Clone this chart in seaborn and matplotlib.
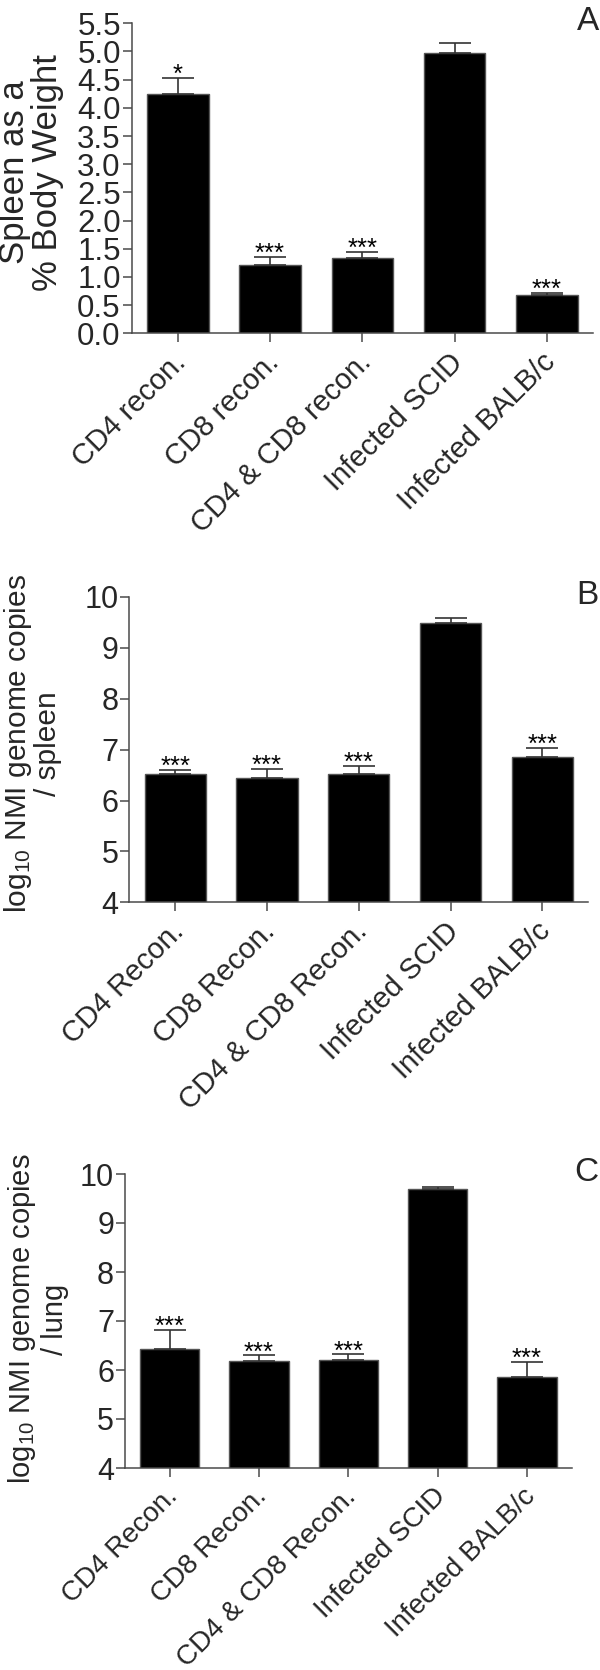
import matplotlib
matplotlib.use("Agg")
import matplotlib.pyplot as plt
from matplotlib.transforms import ScaledTranslation
import seaborn as sns
import numpy as np
import pandas as pd

# ---------------- data ----------------
cats_a = ["CD4 recon.", "CD8 recon.", "CD4 & CD8 recon.", "Infected SCID", "Infected BALB/c"]
vals_a = [4.24, 1.22, 1.34, 4.98, 0.68]
err_a = [0.29, 0.14, 0.10, 0.17, 0.04]
stars_a = ["*", "***", "***", "", "***"]

cats_bc = ["CD4 Recon.", "CD8 Recon.", "CD4 & CD8 Recon.", "Infected SCID", "Infected BALB/c"]
vals_b = [6.53, 6.44, 6.53, 9.49, 6.85]
err_b = [0.07, 0.18, 0.15, 0.09, 0.19]
stars_b = ["***", "***", "***", "", "***"]

vals_c = [6.42, 6.18, 6.21, 9.69, 5.85]
err_c = [0.40, 0.12, 0.11, 0.04, 0.31]
stars_c = ["***", "***", "***", "", "***"]

yticks_a = [0.0, 0.5, 1.0, 1.5, 2.0, 2.5, 3.0, 3.5, 4.0, 4.5, 5.0, 5.5]
yticks_bc = [4, 5, 6, 7, 8, 9, 10]

# ---------------- style ----------------
sns.set_style("ticks")
plt.rcParams["font.family"] = ["Liberation Sans", "DejaVu Sans"]
plt.rcParams["mathtext.fontset"] = "custom"
plt.rcParams["mathtext.rm"] = "Liberation Sans"
plt.rcParams["mathtext.default"] = "regular"

AX_COL = "#4a4a4a"
W, H = 600, 1670
fig = plt.figure(figsize=(W / 100, H / 100), dpi=100)


def add_axes_px(left, right, top, bottom):
    return fig.add_axes([left / W, 1 - bottom / H, (right - left) / W, (bottom - top) / H])


def panel(ax, cats, vals, errs, stars, ylim, yticks, fmt, ytick_fs, xlab_fs,
          ylabel, ylab_fs, ylab_xy, ylab_ls):
    df = pd.DataFrame({"cat": cats, "val": vals})
    sns.barplot(data=df, x="cat", y="val", ax=ax, color="black", saturation=1,
                width=0.667, edgecolor="#555555", linewidth=1.0, errorbar=None)
    x = np.arange(len(cats))
    ax.errorbar(x, vals, yerr=[np.zeros(len(vals)), errs], fmt="none",
                ecolor="#333333", elinewidth=1.2, capsize=11.5, capthick=1.2, zorder=3)
    for xi, v, e, s in zip(x, vals, errs, stars):
        if s:
            ax.annotate(s, (xi, v + e), xytext=(0, -3), textcoords="offset points",
                        ha="center", va="baseline", fontsize=18.5, color="black")
    ax.set_xlim(-0.5, len(cats) - 0.5)
    ax.set_ylim(*ylim)
    ax.set_yticks(yticks)
    ax.set_yticklabels([fmt.format(t) for t in yticks], fontsize=ytick_fs)
    ax.set_xticks(x)
    ax.set_xticklabels(cats, rotation=45, ha="right", va="center",
                       rotation_mode="anchor", fontsize=xlab_fs)
    ax.set_xlabel("")
    ax.set_ylabel(ylabel, fontsize=ylab_fs, va="center", ha="center", linespacing=ylab_ls)
    ax.yaxis.set_label_coords(*ylab_xy)
    sns.despine(ax=ax)
    for sp in ("left", "bottom"):
        ax.spines[sp].set_color(AX_COL)
        ax.spines[sp].set_linewidth(1.1)
    ax.tick_params(axis="y", direction="out", length=6.7, width=1.1, color=AX_COL, pad=1.2)
    ax.tick_params(axis="x", direction="out", length=6.7, width=1.1, color=AX_COL, pad=11)
    off = ScaledTranslation(4 / 100, 0, fig.dpi_scale_trans)
    for lab in ax.get_xticklabels():
        lab.set_transform(lab.get_transform() + off)


ax_a = add_axes_px(131.7, 593, 23.3, 333.3)
panel(ax_a, cats_a, vals_a, err_a, stars_a, (0, 5.5), yticks_a, "{:.1f}", 22.5, 21,
      "Spleen as a\n% Body Weight", 25, (-0.218, 0.52), 1.0)

ax_b = add_axes_px(129.3, 588.3, 597, 902.3)
panel(ax_b, cats_bc, vals_b, err_b, stars_b, (4, 10), yticks_bc, "{:d}", 22, 21,
      "log$_{10}$ NMI genome copies\n/ spleen", 21.5, (-0.211, 0.52), 1.0)

ax_c = add_axes_px(125, 571.7, 1174, 1468)
panel(ax_c, cats_bc, vals_c, err_c, stars_c, (4, 10), yticks_bc, "{:d}", 22, 20,
      "log$_{10}$ NMI genome copies\n/ lung", 21, (-0.196, 0.507), 1.15)

fig.text(0.998, 1 - 6 / H, "A", ha="right", va="top", fontsize=24)
fig.text(0.998, 1 - 580 / H, "B", ha="right", va="top", fontsize=24)
fig.text(0.998, 1 - 1157 / H, "C", ha="right", va="top", fontsize=24)

fig.savefig("out.png", dpi=100)
